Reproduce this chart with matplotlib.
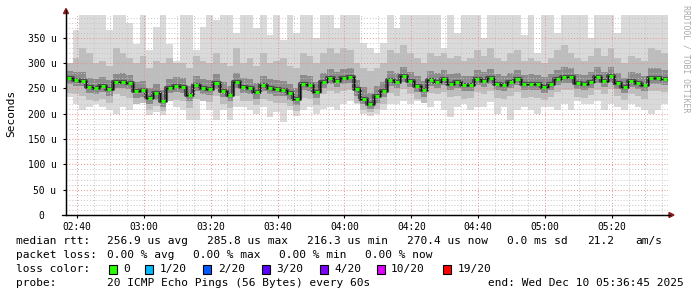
"""SmokePing style latency graph: median rtt with grey smoke bands."""

import numpy as np
import matplotlib
matplotlib.use("Agg")
import matplotlib.pyplot as plt
from matplotlib.patches import Rectangle, Polygon
from matplotlib.ticker import MultipleLocator, FixedLocator, FixedFormatter

# time axis, minutes after midnight
T_START = 156.75          # 02:36:45
T_END = 336.75            # 05:36:45
STEP = 2.0

# median rtt per 2-minute step (microseconds)
median = [270, 266, 265, 252, 250, 254, 248, 262, 262, 260,
          244, 246, 232, 240, 226, 251, 254, 252, 237, 257,
          250, 249, 260, 245, 237, 262, 252, 250, 242, 257,
          250, 248, 247, 240, 230, 259, 257, 243, 263, 271,
          265, 271, 272, 248, 230, 220, 235, 245, 267, 262,
          275, 264, 255, 246, 267, 263, 268, 259, 262, 256,
          256, 268, 264, 270, 259, 256, 263, 268, 258, 259,
          258, 253, 259, 268, 273, 272, 260, 258, 263, 273,
          264, 274, 261, 252, 264, 261, 256, 271, 271, 268]

# highest / lowest ping of each step (outer smoke)
ping_max = [300, 365, 400, 400, 400, 400, 365, 400, 400, 380,
            338, 400, 325, 371, 400, 338, 305, 400, 400, 325,
            371, 400, 385, 400, 400, 360, 400, 400, 370, 400,
            355, 400, 345, 400, 360, 400, 400, 350, 400, 400,
            370, 400, 400, 400, 340, 330, 320, 340, 400, 370,
            400, 400, 400, 400, 400, 400, 330, 400, 360, 400,
            400, 400, 350, 400, 400, 400, 400, 400, 355, 400,
            320, 400, 400, 360, 400, 400, 400, 400, 350, 400,
            400, 400, 360, 400, 400, 400, 400, 400, 400, 400]
ping_min = [233, 220, 207, 213, 220, 213, 207, 200, 213, 207,
            223, 233, 198, 203, 198, 226, 213, 207, 187, 187,
            226, 207, 187, 207, 187, 213, 213, 207, 200, 213,
            193, 203, 184, 207, 195, 207, 213, 200, 210, 213,
            207, 220, 226, 220, 200, 196, 200, 207, 220, 220,
            226, 220, 226, 223, 213, 226, 207, 193, 213, 220,
            207, 213, 213, 223, 200, 213, 187, 207, 213, 207,
            200, 213, 213, 207, 220, 207, 226, 220, 220, 226,
            207, 220, 213, 207, 220, 213, 207, 200, 207, 220]

# middle smoke band
mid_hi = [300, 310, 330, 320, 300, 305, 295, 330, 320, 310,
          300, 315, 290, 305, 300, 310, 300, 300, 290, 315,
          305, 300, 320, 300, 295, 330, 300, 310, 295, 320,
          300, 305, 310, 295, 290, 320, 315, 300, 320, 330,
          320, 330, 325, 300, 290, 285, 290, 300, 325, 320,
          335, 320, 310, 300, 320, 315, 320, 310, 315, 305,
          310, 325, 315, 330, 310, 305, 320, 325, 305, 310,
          305, 300, 310, 325, 335, 320, 310, 305, 315, 330,
          315, 330, 310, 300, 315, 310, 305, 330, 325, 320]
mid_lo = [240, 238, 235, 228, 225, 230, 222, 238, 236, 232,
          220, 222, 208, 215, 205, 225, 228, 225, 212, 230,
          225, 224, 235, 220, 212, 236, 226, 225, 218, 230,
          226, 222, 222, 215, 205, 232, 230, 218, 238, 245,
          240, 245, 246, 222, 208, 204, 210, 220, 240, 236,
          248, 238, 230, 222, 240, 238, 242, 234, 236, 230,
          232, 242, 238, 244, 232, 230, 236, 242, 232, 234,
          232, 228, 234, 242, 246, 246, 234, 232, 237, 246,
          238, 248, 236, 228, 238, 236, 230, 245, 245, 242]

# inner (dark) smoke band
dark_hi = [285, 282, 282, 270, 268, 272, 266, 278, 280, 276,
           262, 264, 250, 258, 246, 268, 272, 270, 255, 274,
           268, 266, 278, 262, 255, 280, 270, 268, 260, 275,
           268, 266, 265, 258, 250, 276, 275, 262, 280, 288,
           283, 288, 290, 266, 252, 240, 255, 262, 284, 280,
           292, 282, 274, 265, 284, 280, 286, 278, 280, 274,
           274, 286, 282, 288, 278, 274, 280, 286, 276, 278,
           276, 272, 278, 286, 292, 290, 278, 276, 282, 292,
           282, 292, 280, 270, 282, 280, 274, 290, 290, 286]
dark_lo = [258, 254, 254, 240, 238, 242, 236, 250, 250, 248,
           232, 234, 220, 228, 214, 240, 242, 240, 226, 245,
           238, 237, 248, 233, 225, 250, 240, 238, 230, 245,
           238, 236, 235, 228, 218, 247, 245, 231, 251, 259,
           253, 259, 260, 236, 220, 210, 222, 233, 255, 250,
           263, 252, 243, 234, 255, 251, 256, 247, 250, 244,
           244, 256, 252, 258, 247, 244, 251, 256, 246, 247,
           246, 241, 247, 256, 261, 260, 248, 246, 251, 261,
           252, 262, 249, 240, 252, 249, 244, 259, 259, 256]

tick_minutes = [160, 180, 200, 220, 240, 260, 280, 300, 320]
tick_labels = ["02:40", "03:00", "03:20", "03:40", "04:00",
               "04:20", "04:40", "05:00", "05:20"]
y_ticks = [0, 50, 100, 150, 200, 250, 300, 350]
y_labels = ["0  ", "50 u", "100 u", "150 u", "200 u", "250 u", "300 u", "350 u"]

loss_labels = ["0", "1/20", "2/20", "3/20", "4/20", "10/20", "19/20"]
loss_colors = ["#26ff00", "#00b8ff", "#0059ff", "#5e00ff", "#7e00ff", "#dd00ff", "#ff0000"]

W, H = 697, 297
MONO = "DejaVu Sans Mono"

fig = plt.figure(figsize=(W / 100, H / 100), dpi=100)
fig.patch.set_facecolor("white")
ax = fig.add_axes([66 / W, 1 - 215 / H, 602 / W, (215 - 14.5) / H])

t = T_START + STEP * np.arange(len(median))
te = np.append(t, T_END)


def ext(v):
    return np.append(v, v[-1])


ax.fill_between(te, ext(ping_min), ext(ping_max), step="post", color="#dadada", lw=0, zorder=1)
ax.fill_between(te, ext(mid_lo), ext(mid_hi), step="post", color="#bdbdbd", lw=0, zorder=1)
ax.fill_between(te, ext(dark_lo), ext(dark_hi), step="post", color="#8c8c8c", lw=0, zorder=1)
ax.step(te, ext(median), where="post", color="#4c4c4c", lw=3.0, zorder=1.5)
ax.step(te, ext(median), where="post", color="#111111", lw=0.8, zorder=3)
ax.hlines(median, t + 0.4, t + STEP - 0.4, color=loss_colors[0], lw=2.2, zorder=4)

ax.set_xlim(T_START, T_END)
ax.set_ylim(0, 396)

# grid: dotted red majors, dotted grey minors, drawn over the smoke
ax.xaxis.set_major_locator(FixedLocator(tick_minutes))
ax.xaxis.set_major_formatter(FixedFormatter(tick_labels))
ax.xaxis.set_minor_locator(MultipleLocator(5))
ax.yaxis.set_major_locator(FixedLocator(y_ticks))
ax.yaxis.set_major_formatter(FixedFormatter(y_labels))
ax.yaxis.set_minor_locator(MultipleLocator(10))
ax.set_axisbelow(False)
ax.grid(which="major", color="#e88c8c", lw=0.7, linestyle=(0, (1, 2)))
ax.grid(which="minor", color="#c4c4c4", lw=0.7, linestyle=(0, (1, 2)))
for gl in ax.get_xgridlines() + ax.get_ygridlines():
    gl.set_zorder(2)

ax.tick_params(which="minor", length=0)
ax.tick_params(axis="y", which="major", length=2, width=0.8, pad=5, labelsize=6.9, color="black")
ax.tick_params(axis="x", which="major", length=2, width=0.8, pad=3, labelsize=6.9, color="black")
for lab in ax.get_xticklabels() + ax.get_yticklabels():
    lab.set_family(MONO)

for s in ["top", "right"]:
    ax.spines[s].set_visible(False)
ax.spines["left"].set_linewidth(0.9)
ax.spines["bottom"].set_linewidth(0.9)


def fx(x):
    return x / W


def fy(y):
    return 1 - y / H


# axis arrows
arrow = "#8b1a1a"
fig.add_artist(plt.Line2D([fx(66), fx(66)], [fy(215), fy(10)], color="black", lw=0.9))
fig.add_artist(plt.Line2D([fx(62), fx(670)], [fy(215), fy(215)], color="black", lw=0.9))
fig.add_artist(Polygon([(fx(63.5), fy(13.5)), (fx(68.5), fy(13.5)), (fx(66), fy(8.5))],
                       closed=True, color=arrow, transform=fig.transFigure))
fig.add_artist(Polygon([(fx(669), fy(212.5)), (fx(669), fy(217.5)), (fx(674), fy(215))],
                       closed=True, color=arrow, transform=fig.transFigure))

fig.text(fx(11), fy(113), "Seconds", rotation=90, ha="center", va="center",
         family=MONO, fontsize=8)
fig.text(fx(686), fy(59), "RRDTOOL / TOBI OETIKER", rotation=270, ha="center", va="center",
         family=MONO, fontsize=5.9, color="#aaaaaa")

fs = 8.0
rows = [
    (241, [(16, "median rtt:"), (107, "256.9 us avg"), (207, "285.8 us max"),
           (307, "216.3 us min"), (407, "270.4 us now"), (507, "0.0 ms sd"),
           (587, "21.2"), (635, "am/s")]),
    (255, [(16, "packet loss:"), (107, "0.00 % avg"), (193, "0.00 % max"),
           (279, "0.00 % min"), (365, "0.00 % now")]),
    (269, [(16, "loss color:")]),
    (283, [(16, "probe:"), (107, "20 ICMP Echo Pings (56 Bytes) every 60s"),
           (488, "end: Wed Dec 10 05:36:45 2025")]),
]
for y, items in rows:
    for x, s in items:
        fig.text(fx(x), fy(y), s, ha="left", va="center", family=MONO, fontsize=fs)

sq_x = [108.7, 145.3, 203.3, 261.7, 320, 376.7, 443.3]
for x, lab, c in zip(sq_x, loss_labels, loss_colors):
    fig.add_artist(Rectangle((fx(x), fy(273.5)), 8 / W, 8.5 / H, facecolor=c,
                             edgecolor="black", lw=0.8, transform=fig.transFigure))
    fig.text(fx(x + 14.5), fy(269), lab, ha="left", va="center", family=MONO, fontsize=fs)

fig.savefig("out.png", dpi=100, facecolor="white")
